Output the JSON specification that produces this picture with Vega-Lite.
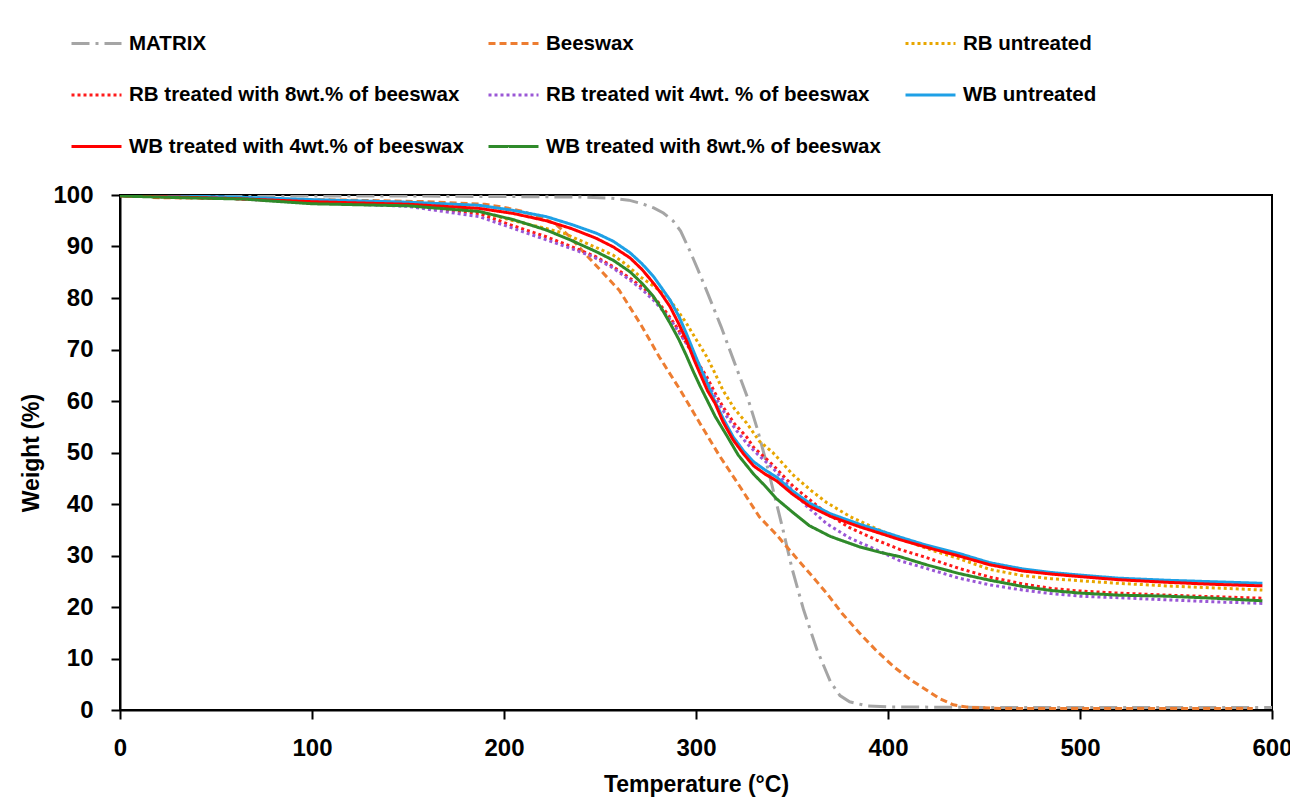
{
  "$schema": "https://vega.github.io/schema/vega-lite/v6.json",
  "autosize": {"type": "none"},
  "padding": {"left": 120, "top": 195, "right": 18, "bottom": 102},
  "width": 1152,
  "height": 515,
  "background": "white",
  "config": {
    "font": "Liberation Sans",
    "view": {"stroke": "black", "strokeWidth": 2},
    "axis": {
      "domainColor": "black", "domainWidth": 2,
      "tickColor": "black", "tickWidth": 2, "tickSize": 9,
      "labelColor": "black", "labelFont": "Liberation Sans", "labelFontWeight": "bold", "labelFontSize": 24,
      "titleColor": "black", "titleFont": "Liberation Sans", "titleFontWeight": "bold", "titleFontSize": 23,
      "grid": false, "labelFlush": false, "labelOverlap": false, "labelBound": false
    },
    "legend": {
      "orient": "none", "legendX": -50, "legendY": -178, "columns": 3, "direction": "horizontal",
      "columnPadding": 18, "rowPadding": 14.5, "padding": 0,
      "symbolType": "stroke", "symbolSize": 2500, "symbolStrokeWidth": 3,
      "labelFont": "Liberation Sans", "labelFontSize": 20.5, "labelFontWeight": "bold", "labelColor": "black",
      "labelOffset": 6, "labelLimit": 0, "gridAlign": "each"
    }
  },
  "data": {"values": [
    {"s":"MATRIX","t":20,"w":99.8},{"s":"MATRIX","t":60,"w":99.8},{"s":"MATRIX","t":100,"w":99.8},{"s":"MATRIX","t":150,"w":99.8},{"s":"MATRIX","t":200,"w":99.7},{"s":"MATRIX","t":240,"w":99.6},{"s":"MATRIX","t":255,"w":99.4},{"s":"MATRIX","t":265,"w":99},{"s":"MATRIX","t":272,"w":98.3},{"s":"MATRIX","t":278,"w":97.5},{"s":"MATRIX","t":283,"w":96.5},{"s":"MATRIX","t":288,"w":95},{"s":"MATRIX","t":292,"w":93},{"s":"MATRIX","t":297,"w":89},{"s":"MATRIX","t":301,"w":85.5},{"s":"MATRIX","t":306,"w":81},{"s":"MATRIX","t":313,"w":74.5},{"s":"MATRIX","t":320,"w":67.5},{"s":"MATRIX","t":327,"w":60.5},{"s":"MATRIX","t":332,"w":54.5},{"s":"MATRIX","t":337,"w":47.5},{"s":"MATRIX","t":341,"w":41.5},{"s":"MATRIX","t":345,"w":35.5},{"s":"MATRIX","t":350,"w":27.5},{"s":"MATRIX","t":356,"w":19.5},{"s":"MATRIX","t":363,"w":11.7},{"s":"MATRIX","t":370,"w":5.5},{"s":"MATRIX","t":375,"w":2.8},{"s":"MATRIX","t":380,"w":1.6},{"s":"MATRIX","t":389,"w":0.8},{"s":"MATRIX","t":400,"w":0.6},{"s":"MATRIX","t":450,"w":0.5},{"s":"MATRIX","t":500,"w":0.5},{"s":"MATRIX","t":550,"w":0.5},{"s":"MATRIX","t":600,"w":0.5},

    {"s":"Beeswax","t":17,"w":99.5},{"s":"Beeswax","t":40,"w":99.4},{"s":"Beeswax","t":80,"w":99.2},{"s":"Beeswax","t":120,"w":99},{"s":"Beeswax","t":160,"w":98.7},{"s":"Beeswax","t":190,"w":98.2},{"s":"Beeswax","t":200,"w":97.6},{"s":"Beeswax","t":210,"w":96.8},{"s":"Beeswax","t":220,"w":95.5},{"s":"Beeswax","t":227,"w":94.3},{"s":"Beeswax","t":234,"w":92},{"s":"Beeswax","t":240,"w":89.5},{"s":"Beeswax","t":250,"w":85.5},{"s":"Beeswax","t":260,"w":81.5},{"s":"Beeswax","t":271,"w":75},{"s":"Beeswax","t":281,"w":68.5},{"s":"Beeswax","t":292,"w":62},{"s":"Beeswax","t":302,"w":55.7},{"s":"Beeswax","t":312,"w":49.5},{"s":"Beeswax","t":323,"w":43.3},{"s":"Beeswax","t":333,"w":37.5},{"s":"Beeswax","t":342,"w":34},{"s":"Beeswax","t":350,"w":30.5},{"s":"Beeswax","t":360,"w":26.2},{"s":"Beeswax","t":368,"w":22.7},{"s":"Beeswax","t":376,"w":18.8},{"s":"Beeswax","t":385,"w":15},{"s":"Beeswax","t":394,"w":11.5},{"s":"Beeswax","t":403,"w":8.4},{"s":"Beeswax","t":412,"w":5.8},{"s":"Beeswax","t":420,"w":3.9},{"s":"Beeswax","t":427,"w":2.2},{"s":"Beeswax","t":434,"w":1},{"s":"Beeswax","t":442,"w":0.5},{"s":"Beeswax","t":460,"w":0.3},{"s":"Beeswax","t":500,"w":0.3},{"s":"Beeswax","t":550,"w":0.3},{"s":"Beeswax","t":590,"w":0.3},

    {"s":"RB untreated","t":20,"w":99.7},{"s":"RB untreated","t":60,"w":99.4},{"s":"RB untreated","t":100,"w":98.8},{"s":"RB untreated","t":150,"w":98.3},{"s":"RB untreated","t":187,"w":96.8},{"s":"RB untreated","t":205,"w":95},{"s":"RB untreated","t":222,"w":93.5},{"s":"RB untreated","t":231,"w":92.6},{"s":"RB untreated","t":245,"w":90.3},{"s":"RB untreated","t":257,"w":88.3},{"s":"RB untreated","t":264,"w":86.4},{"s":"RB untreated","t":271,"w":84.1},{"s":"RB untreated","t":278,"w":82.3},{"s":"RB untreated","t":285,"w":80.3},{"s":"RB untreated","t":290,"w":77.8},{"s":"RB untreated","t":295,"w":75.1},{"s":"RB untreated","t":300,"w":72},{"s":"RB untreated","t":305.6,"w":68.6},{"s":"RB untreated","t":310,"w":65.3},{"s":"RB untreated","t":314,"w":62.1},{"s":"RB untreated","t":320,"w":58.5},{"s":"RB untreated","t":326.4,"w":55.7},{"s":"RB untreated","t":333,"w":52.2},{"s":"RB untreated","t":340,"w":50},{"s":"RB untreated","t":350.7,"w":45.6},{"s":"RB untreated","t":360,"w":42.6},{"s":"RB untreated","t":368,"w":40.3},{"s":"RB untreated","t":380,"w":37.6},{"s":"RB untreated","t":394,"w":35.2},{"s":"RB untreated","t":406,"w":33.3},{"s":"RB untreated","t":423,"w":31},{"s":"RB untreated","t":437,"w":29.4},{"s":"RB untreated","t":453,"w":27.3},{"s":"RB untreated","t":470,"w":26.1},{"s":"RB untreated","t":485,"w":25.5},{"s":"RB untreated","t":500,"w":25.1},{"s":"RB untreated","t":520,"w":24.6},{"s":"RB untreated","t":545,"w":24.1},{"s":"RB untreated","t":570,"w":23.7},{"s":"RB untreated","t":595,"w":23.3},

    {"s":"RB treated with 8wt.% of beeswax","t":20,"w":99.7},{"s":"RB treated with 8wt.% of beeswax","t":60,"w":99.3},{"s":"RB treated with 8wt.% of beeswax","t":100,"w":98.6},{"s":"RB treated with 8wt.% of beeswax","t":150,"w":98},{"s":"RB treated with 8wt.% of beeswax","t":187,"w":96.4},{"s":"RB treated with 8wt.% of beeswax","t":205,"w":94},{"s":"RB treated with 8wt.% of beeswax","t":222,"w":91.9},{"s":"RB treated with 8wt.% of beeswax","t":235,"w":90},{"s":"RB treated with 8wt.% of beeswax","t":248,"w":88},{"s":"RB treated with 8wt.% of beeswax","t":255,"w":86.5},{"s":"RB treated with 8wt.% of beeswax","t":262,"w":84.8},{"s":"RB treated with 8wt.% of beeswax","t":268,"w":83.2},{"s":"RB treated with 8wt.% of beeswax","t":274,"w":81.5},{"s":"RB treated with 8wt.% of beeswax","t":280,"w":79.3},{"s":"RB treated with 8wt.% of beeswax","t":285,"w":77},{"s":"RB treated with 8wt.% of beeswax","t":290,"w":74.3},{"s":"RB treated with 8wt.% of beeswax","t":295,"w":71.2},{"s":"RB treated with 8wt.% of beeswax","t":300,"w":68},{"s":"RB treated with 8wt.% of beeswax","t":305.6,"w":64.7},{"s":"RB treated with 8wt.% of beeswax","t":310,"w":61.5},{"s":"RB treated with 8wt.% of beeswax","t":314,"w":58.9},{"s":"RB treated with 8wt.% of beeswax","t":320,"w":55.6},{"s":"RB treated with 8wt.% of beeswax","t":326.4,"w":53},{"s":"RB treated with 8wt.% of beeswax","t":330,"w":51},{"s":"RB treated with 8wt.% of beeswax","t":340,"w":47.6},{"s":"RB treated with 8wt.% of beeswax","t":350.7,"w":43.4},{"s":"RB treated with 8wt.% of beeswax","t":360,"w":40.6},{"s":"RB treated with 8wt.% of beeswax","t":368,"w":38.2},{"s":"RB treated with 8wt.% of beeswax","t":380,"w":35.4},{"s":"RB treated with 8wt.% of beeswax","t":394,"w":33},{"s":"RB treated with 8wt.% of beeswax","t":406,"w":31.2},{"s":"RB treated with 8wt.% of beeswax","t":420,"w":29.6},{"s":"RB treated with 8wt.% of beeswax","t":437,"w":27.5},{"s":"RB treated with 8wt.% of beeswax","t":453,"w":25.8},{"s":"RB treated with 8wt.% of beeswax","t":470,"w":24.5},{"s":"RB treated with 8wt.% of beeswax","t":485,"w":23.6},{"s":"RB treated with 8wt.% of beeswax","t":500,"w":23.1},{"s":"RB treated with 8wt.% of beeswax","t":520,"w":22.7},{"s":"RB treated with 8wt.% of beeswax","t":545,"w":22.3},{"s":"RB treated with 8wt.% of beeswax","t":570,"w":22},{"s":"RB treated with 8wt.% of beeswax","t":595,"w":21.7},

    {"s":"RB treated wit 4wt. % of beeswax","t":20,"w":99.7},{"s":"RB treated wit 4wt. % of beeswax","t":60,"w":99.3},{"s":"RB treated wit 4wt. % of beeswax","t":100,"w":98.5},{"s":"RB treated wit 4wt. % of beeswax","t":150,"w":97.8},{"s":"RB treated wit 4wt. % of beeswax","t":187,"w":95.8},{"s":"RB treated wit 4wt. % of beeswax","t":205,"w":93.5},{"s":"RB treated wit 4wt. % of beeswax","t":222,"w":91.3},{"s":"RB treated wit 4wt. % of beeswax","t":235,"w":89.6},{"s":"RB treated wit 4wt. % of beeswax","t":246.5,"w":88},{"s":"RB treated wit 4wt. % of beeswax","t":256,"w":86},{"s":"RB treated wit 4wt. % of beeswax","t":265.6,"w":83.5},{"s":"RB treated wit 4wt. % of beeswax","t":272,"w":81.6},{"s":"RB treated wit 4wt. % of beeswax","t":277.8,"w":79.6},{"s":"RB treated wit 4wt. % of beeswax","t":283,"w":77.4},{"s":"RB treated wit 4wt. % of beeswax","t":288,"w":75.1},{"s":"RB treated wit 4wt. % of beeswax","t":293,"w":72.3},{"s":"RB treated wit 4wt. % of beeswax","t":298.6,"w":69.3},{"s":"RB treated wit 4wt. % of beeswax","t":303,"w":66},{"s":"RB treated wit 4wt. % of beeswax","t":307,"w":62.8},{"s":"RB treated wit 4wt. % of beeswax","t":312,"w":59.5},{"s":"RB treated wit 4wt. % of beeswax","t":316,"w":57},{"s":"RB treated wit 4wt. % of beeswax","t":321,"w":54.3},{"s":"RB treated wit 4wt. % of beeswax","t":326.4,"w":51.8},{"s":"RB treated wit 4wt. % of beeswax","t":333,"w":49.3},{"s":"RB treated wit 4wt. % of beeswax","t":340,"w":47},{"s":"RB treated wit 4wt. % of beeswax","t":347,"w":44},{"s":"RB treated wit 4wt. % of beeswax","t":357,"w":39.8},{"s":"RB treated wit 4wt. % of beeswax","t":368,"w":36.2},{"s":"RB treated wit 4wt. % of beeswax","t":380,"w":33.4},{"s":"RB treated wit 4wt. % of beeswax","t":394,"w":31.1},{"s":"RB treated wit 4wt. % of beeswax","t":406,"w":29},{"s":"RB treated wit 4wt. % of beeswax","t":420,"w":27.5},{"s":"RB treated wit 4wt. % of beeswax","t":437,"w":25.6},{"s":"RB treated wit 4wt. % of beeswax","t":453,"w":24.3},{"s":"RB treated wit 4wt. % of beeswax","t":470,"w":23.3},{"s":"RB treated wit 4wt. % of beeswax","t":485,"w":22.6},{"s":"RB treated wit 4wt. % of beeswax","t":500,"w":22.1},{"s":"RB treated wit 4wt. % of beeswax","t":520,"w":21.8},{"s":"RB treated wit 4wt. % of beeswax","t":545,"w":21.4},{"s":"RB treated wit 4wt. % of beeswax","t":570,"w":21},{"s":"RB treated wit 4wt. % of beeswax","t":595,"w":20.7},

    {"s":"WB untreated","t":0,"w":100},{"s":"WB untreated","t":30,"w":99.8},{"s":"WB untreated","t":60,"w":99.6},{"s":"WB untreated","t":100,"w":99.1},{"s":"WB untreated","t":150,"w":98.6},{"s":"WB untreated","t":187,"w":98},{"s":"WB untreated","t":205,"w":97},{"s":"WB untreated","t":222,"w":95.8},{"s":"WB untreated","t":235,"w":94.3},{"s":"WB untreated","t":248,"w":92.6},{"s":"WB untreated","t":257,"w":91},{"s":"WB untreated","t":265.6,"w":88.8},{"s":"WB untreated","t":272,"w":86.6},{"s":"WB untreated","t":278,"w":84.1},{"s":"WB untreated","t":282,"w":82},{"s":"WB untreated","t":286.5,"w":79.6},{"s":"WB untreated","t":291,"w":76.5},{"s":"WB untreated","t":295,"w":73.1},{"s":"WB untreated","t":299,"w":69.4},{"s":"WB untreated","t":302,"w":66.7},{"s":"WB untreated","t":306,"w":63.3},{"s":"WB untreated","t":309,"w":60.6},{"s":"WB untreated","t":314,"w":56.7},{"s":"WB untreated","t":319.4,"w":53},{"s":"WB untreated","t":325,"w":50.2},{"s":"WB untreated","t":330,"w":48.2},{"s":"WB untreated","t":336,"w":46.6},{"s":"WB untreated","t":342,"w":45.2},{"s":"WB untreated","t":350,"w":42.6},{"s":"WB untreated","t":359,"w":40.2},{"s":"WB untreated","t":370,"w":38.1},{"s":"WB untreated","t":385,"w":36.1},{"s":"WB untreated","t":396,"w":34.8},{"s":"WB untreated","t":406,"w":33.6},{"s":"WB untreated","t":420,"w":32},{"s":"WB untreated","t":437,"w":30.4},{"s":"WB untreated","t":453,"w":28.6},{"s":"WB untreated","t":470,"w":27.4},{"s":"WB untreated","t":485,"w":26.7},{"s":"WB untreated","t":500,"w":26.2},{"s":"WB untreated","t":520,"w":25.6},{"s":"WB untreated","t":545,"w":25.2},{"s":"WB untreated","t":570,"w":24.9},{"s":"WB untreated","t":595,"w":24.6},

    {"s":"WB treated with 4wt.% of beeswax","t":0,"w":99.8},{"s":"WB treated with 4wt.% of beeswax","t":30,"w":99.6},{"s":"WB treated with 4wt.% of beeswax","t":60,"w":99.3},{"s":"WB treated with 4wt.% of beeswax","t":100,"w":98.7},{"s":"WB treated with 4wt.% of beeswax","t":150,"w":98.2},{"s":"WB treated with 4wt.% of beeswax","t":187,"w":97.4},{"s":"WB treated with 4wt.% of beeswax","t":205,"w":96.4},{"s":"WB treated with 4wt.% of beeswax","t":222,"w":95},{"s":"WB treated with 4wt.% of beeswax","t":235,"w":93.5},{"s":"WB treated with 4wt.% of beeswax","t":248,"w":91.6},{"s":"WB treated with 4wt.% of beeswax","t":257,"w":89.9},{"s":"WB treated with 4wt.% of beeswax","t":265.6,"w":87.8},{"s":"WB treated with 4wt.% of beeswax","t":272,"w":85.5},{"s":"WB treated with 4wt.% of beeswax","t":278,"w":82.8},{"s":"WB treated with 4wt.% of beeswax","t":282,"w":80.8},{"s":"WB treated with 4wt.% of beeswax","t":286.5,"w":78.3},{"s":"WB treated with 4wt.% of beeswax","t":291,"w":75},{"s":"WB treated with 4wt.% of beeswax","t":295,"w":71.8},{"s":"WB treated with 4wt.% of beeswax","t":299,"w":68},{"s":"WB treated with 4wt.% of beeswax","t":302,"w":65.4},{"s":"WB treated with 4wt.% of beeswax","t":306,"w":62},{"s":"WB treated with 4wt.% of beeswax","t":310,"w":59.5},{"s":"WB treated with 4wt.% of beeswax","t":314,"w":56},{"s":"WB treated with 4wt.% of beeswax","t":319.4,"w":52.4},{"s":"WB treated with 4wt.% of beeswax","t":325,"w":49.6},{"s":"WB treated with 4wt.% of beeswax","t":330,"w":47.4},{"s":"WB treated with 4wt.% of beeswax","t":336,"w":45.8},{"s":"WB treated with 4wt.% of beeswax","t":342,"w":44.5},{"s":"WB treated with 4wt.% of beeswax","t":350,"w":42},{"s":"WB treated with 4wt.% of beeswax","t":359,"w":39.6},{"s":"WB treated with 4wt.% of beeswax","t":370,"w":37.6},{"s":"WB treated with 4wt.% of beeswax","t":385,"w":35.6},{"s":"WB treated with 4wt.% of beeswax","t":396,"w":34.3},{"s":"WB treated with 4wt.% of beeswax","t":406,"w":33.1},{"s":"WB treated with 4wt.% of beeswax","t":420,"w":31.6},{"s":"WB treated with 4wt.% of beeswax","t":437,"w":29.9},{"s":"WB treated with 4wt.% of beeswax","t":453,"w":28.2},{"s":"WB treated with 4wt.% of beeswax","t":470,"w":27},{"s":"WB treated with 4wt.% of beeswax","t":485,"w":26.4},{"s":"WB treated with 4wt.% of beeswax","t":500,"w":25.9},{"s":"WB treated with 4wt.% of beeswax","t":520,"w":25.3},{"s":"WB treated with 4wt.% of beeswax","t":545,"w":24.8},{"s":"WB treated with 4wt.% of beeswax","t":570,"w":24.4},{"s":"WB treated with 4wt.% of beeswax","t":595,"w":24.1},

    {"s":"WB treated with 8wt.% of beeswax","t":0,"w":99.8},{"s":"WB treated with 8wt.% of beeswax","t":30,"w":99.5},{"s":"WB treated with 8wt.% of beeswax","t":65,"w":99.2},{"s":"WB treated with 8wt.% of beeswax","t":80,"w":98.8},{"s":"WB treated with 8wt.% of beeswax","t":100,"w":98.3},{"s":"WB treated with 8wt.% of beeswax","t":150,"w":97.9},{"s":"WB treated with 8wt.% of beeswax","t":170,"w":97.3},{"s":"WB treated with 8wt.% of beeswax","t":187,"w":96.8},{"s":"WB treated with 8wt.% of beeswax","t":205,"w":95.2},{"s":"WB treated with 8wt.% of beeswax","t":222,"w":93.2},{"s":"WB treated with 8wt.% of beeswax","t":235,"w":91.2},{"s":"WB treated with 8wt.% of beeswax","t":248,"w":89},{"s":"WB treated with 8wt.% of beeswax","t":257,"w":87.3},{"s":"WB treated with 8wt.% of beeswax","t":265.6,"w":85.1},{"s":"WB treated with 8wt.% of beeswax","t":272,"w":82.8},{"s":"WB treated with 8wt.% of beeswax","t":277.8,"w":80.3},{"s":"WB treated with 8wt.% of beeswax","t":282,"w":78},{"s":"WB treated with 8wt.% of beeswax","t":286.5,"w":75.1},{"s":"WB treated with 8wt.% of beeswax","t":291,"w":72},{"s":"WB treated with 8wt.% of beeswax","t":295,"w":68.8},{"s":"WB treated with 8wt.% of beeswax","t":298.5,"w":65.8},{"s":"WB treated with 8wt.% of beeswax","t":302,"w":63},{"s":"WB treated with 8wt.% of beeswax","t":306,"w":60},{"s":"WB treated with 8wt.% of beeswax","t":310,"w":57},{"s":"WB treated with 8wt.% of beeswax","t":316,"w":53.3},{"s":"WB treated with 8wt.% of beeswax","t":322,"w":49.5},{"s":"WB treated with 8wt.% of beeswax","t":330,"w":45.8},{"s":"WB treated with 8wt.% of beeswax","t":336,"w":43.5},{"s":"WB treated with 8wt.% of beeswax","t":342,"w":41},{"s":"WB treated with 8wt.% of beeswax","t":350,"w":38.5},{"s":"WB treated with 8wt.% of beeswax","t":359,"w":35.8},{"s":"WB treated with 8wt.% of beeswax","t":370,"w":33.7},{"s":"WB treated with 8wt.% of beeswax","t":385,"w":31.7},{"s":"WB treated with 8wt.% of beeswax","t":396,"w":30.6},{"s":"WB treated with 8wt.% of beeswax","t":406,"w":29.8},{"s":"WB treated with 8wt.% of beeswax","t":420,"w":28.2},{"s":"WB treated with 8wt.% of beeswax","t":437,"w":26.5},{"s":"WB treated with 8wt.% of beeswax","t":453,"w":25.2},{"s":"WB treated with 8wt.% of beeswax","t":470,"w":24},{"s":"WB treated with 8wt.% of beeswax","t":485,"w":23.2},{"s":"WB treated with 8wt.% of beeswax","t":500,"w":22.7},{"s":"WB treated with 8wt.% of beeswax","t":520,"w":22.3},{"s":"WB treated with 8wt.% of beeswax","t":545,"w":22.1},{"s":"WB treated with 8wt.% of beeswax","t":570,"w":21.7},{"s":"WB treated with 8wt.% of beeswax","t":595,"w":21.2}
  ]},
  "mark": {"type": "line", "strokeWidth": 3, "clip": true},
  "encoding": {
    "x": {
      "field": "t", "type": "quantitative",
      "scale": {"domain": [0, 600], "nice": false},
      "axis": {"values": [0, 100, 200, 300, 400, 500, 600], "labelPadding": 17, "title": "Temperature (°C)", "titlePadding": 13}
    },
    "y": {
      "field": "w", "type": "quantitative",
      "scale": {"domain": [0, 100], "nice": false},
      "axis": {"values": [0, 10, 20, 30, 40, 50, 60, 70, 80, 90, 100], "labelPadding": 18, "title": "Weight (%)", "titlePadding": 9}
    },
    "color": {
      "field": "s", "type": "nominal",
      "scale": {
        "domain": ["MATRIX", "Beeswax", "RB untreated", "RB treated with 8wt.% of beeswax", "RB treated wit 4wt. % of beeswax", "WB untreated", "WB treated with 4wt.% of beeswax", "WB treated with 8wt.% of beeswax"],
        "range": ["#A5A5A5", "#ED7D31", "#E8A600", "#FF1A1A", "#9A57D6", "#1EA0E6", "#FF0000", "#2F8A2A"]
      },
      "legend": {"title": null}
    },
    "strokeDash": {
      "field": "s", "type": "nominal",
      "scale": {
        "domain": ["MATRIX", "Beeswax", "RB untreated", "RB treated with 8wt.% of beeswax", "RB treated wit 4wt. % of beeswax", "WB untreated", "WB treated with 4wt.% of beeswax", "WB treated with 8wt.% of beeswax"],
        "range": [[18, 6, 3, 6], [7, 4], [3, 3], [3, 3], [3, 3], [1, 0], [1, 0], [1, 0]]
      },
      "legend": {"title": null}
    }
  }
}
